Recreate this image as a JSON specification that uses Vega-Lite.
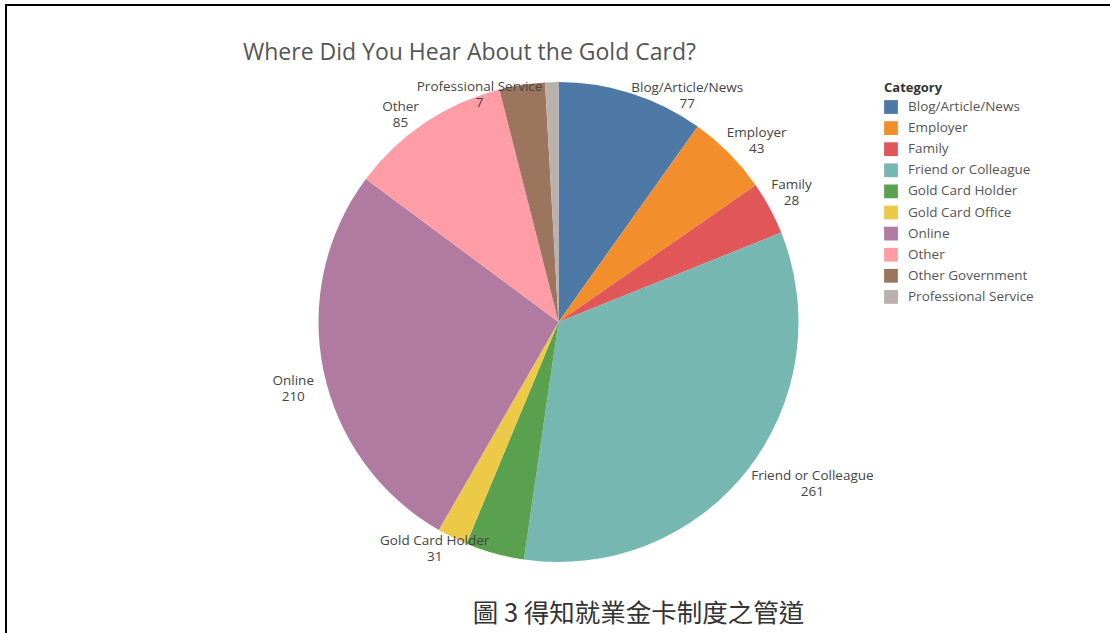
{
  "$schema": "https://vega.github.io/schema/vega-lite/v6.json",
  "padding": {"left": 5, "top": 4, "right": 0, "bottom": 0},
  "title": {
    "text": "圖 3 得知就業金卡制度之管道",
    "orient": "bottom",
    "anchor": "middle",
    "font": "Noto Sans CJK TC",
    "fontSize": 25.5,
    "fontWeight": "normal",
    "color": "#333333",
    "offset": -38,
    "dx": 80
  },
  "vconcat": [
    {
      "width": 1105,
      "height": 634,
      "view": {"stroke": "#000000", "strokeWidth": 2},
      "title": {
        "text": "Where Did You Hear About the Gold Card?",
        "anchor": "start",
        "baseline": "alphabetic",
        "offset": 0,
        "dx": 237,
        "dy": 78,
        "font": "Open Sans",
        "fontSize": 23,
        "fontWeight": "normal",
        "color": "#555555"
      },
      "data": {
        "values": [
          {"Category": "Blog/Article/News", "Count": 77},
          {"Category": "Employer", "Count": 43},
          {"Category": "Family", "Count": 28},
          {"Category": "Friend or Colleague", "Count": 261},
          {"Category": "Gold Card Holder", "Count": 31},
          {"Category": "Gold Card Office", "Count": 16},
          {"Category": "Online", "Count": 210},
          {"Category": "Other", "Count": 85},
          {"Category": "Other Government", "Count": 24},
          {"Category": "Professional Service", "Count": 7}
        ]
      },
      "transform": [
        {"joinaggregate": [{"op": "sum", "field": "Count", "as": "Total"}]}
      ],
      "encoding": {
        "theta": {"field": "Count", "type": "quantitative", "stack": true},
        "order": {"field": "Category", "type": "ordinal"}
      },
      "layer": [
        {
          "mark": {"type": "arc", "outerRadius": 240},
          "encoding": {
            "color": {
              "field": "Category",
              "type": "nominal",
              "scale": {
                "domain": ["Blog/Article/News", "Employer", "Family", "Friend or Colleague", "Gold Card Holder", "Gold Card Office", "Online", "Other", "Other Government", "Professional Service"],
                "range": ["#4e79a7", "#f28e2b", "#e15759", "#76b7b2", "#59a14f", "#edc948", "#b07aa1", "#ff9da7", "#9c755f", "#bab0ac"]
              },
              "legend": {
                "orient": "none",
                "legendX": 878,
                "legendY": 77,
                "title": "Category",
                "titleFont": "Open Sans",
                "titleFontSize": 13,
                "titleFontWeight": "bold",
                "titleColor": "#333333",
                "titlePadding": 5,
                "labelFont": "Open Sans",
                "labelFontSize": 13.5,
                "labelColor": "#555555",
                "labelOffset": 10,
                "symbolType": "square",
                "symbolSize": 190,
                "symbolStrokeWidth": 0,
                "symbolOpacity": 1,
                "rowPadding": 7.1,
                "padding": 0
              }
            }
          }
        },
        {
          "mark": {
            "type": "text",
            "radius": 246,
            "font": "Open Sans",
            "fontSize": 13.5,
            "color": "#444444",
            "baseline": "middle",
            "align": "center",
            "dx": {"expr": "(PI * (datum.Count_start + datum.Count_end) / datum.Total < PI ? 1 : -1) * length(datum.Category) * 3.4 - 4"},
            "dy": {"expr": "-20 * (cos(PI * (datum.Count_start + datum.Count_end) / datum.Total) >= 0 ? 1 : -1) * min(1, 1.6 * abs(sin(PI * (datum.Count_start + datum.Count_end) / datum.Total))) + 6 * pow(cos(PI * (datum.Count_start + datum.Count_end) / datum.Total), 3) + 14 * cos(PI * (datum.Count_start + datum.Count_end) / datum.Total) - 8"}
          },
          "encoding": {
            "detail": {"field": "Category", "type": "nominal"},
            "text": {
              "condition": {"test": "datum.Category === 'Gold Card Office' || datum.Category === 'Other Government'", "value": ""},
              "field": "Category",
              "type": "nominal"
            }
          }
        },
        {
          "mark": {
            "type": "text",
            "radius": 246,
            "font": "Open Sans",
            "fontSize": 13.5,
            "color": "#444444",
            "baseline": "middle",
            "align": "center",
            "dx": {"expr": "(PI * (datum.Count_start + datum.Count_end) / datum.Total < PI ? 1 : -1) * length(datum.Category) * 3.4 - 4"},
            "dy": {"expr": "-20 * (cos(PI * (datum.Count_start + datum.Count_end) / datum.Total) >= 0 ? 1 : -1) * min(1, 1.6 * abs(sin(PI * (datum.Count_start + datum.Count_end) / datum.Total))) + 6 * pow(cos(PI * (datum.Count_start + datum.Count_end) / datum.Total), 3) + 14 * cos(PI * (datum.Count_start + datum.Count_end) / datum.Total) + 8"}
          },
          "encoding": {
            "detail": {"field": "Category", "type": "nominal"},
            "text": {
              "condition": {"test": "datum.Category === 'Gold Card Office' || datum.Category === 'Other Government'", "value": ""},
              "field": "Count",
              "type": "quantitative"
            }
          }
        }
      ]
    }
  ]
}
